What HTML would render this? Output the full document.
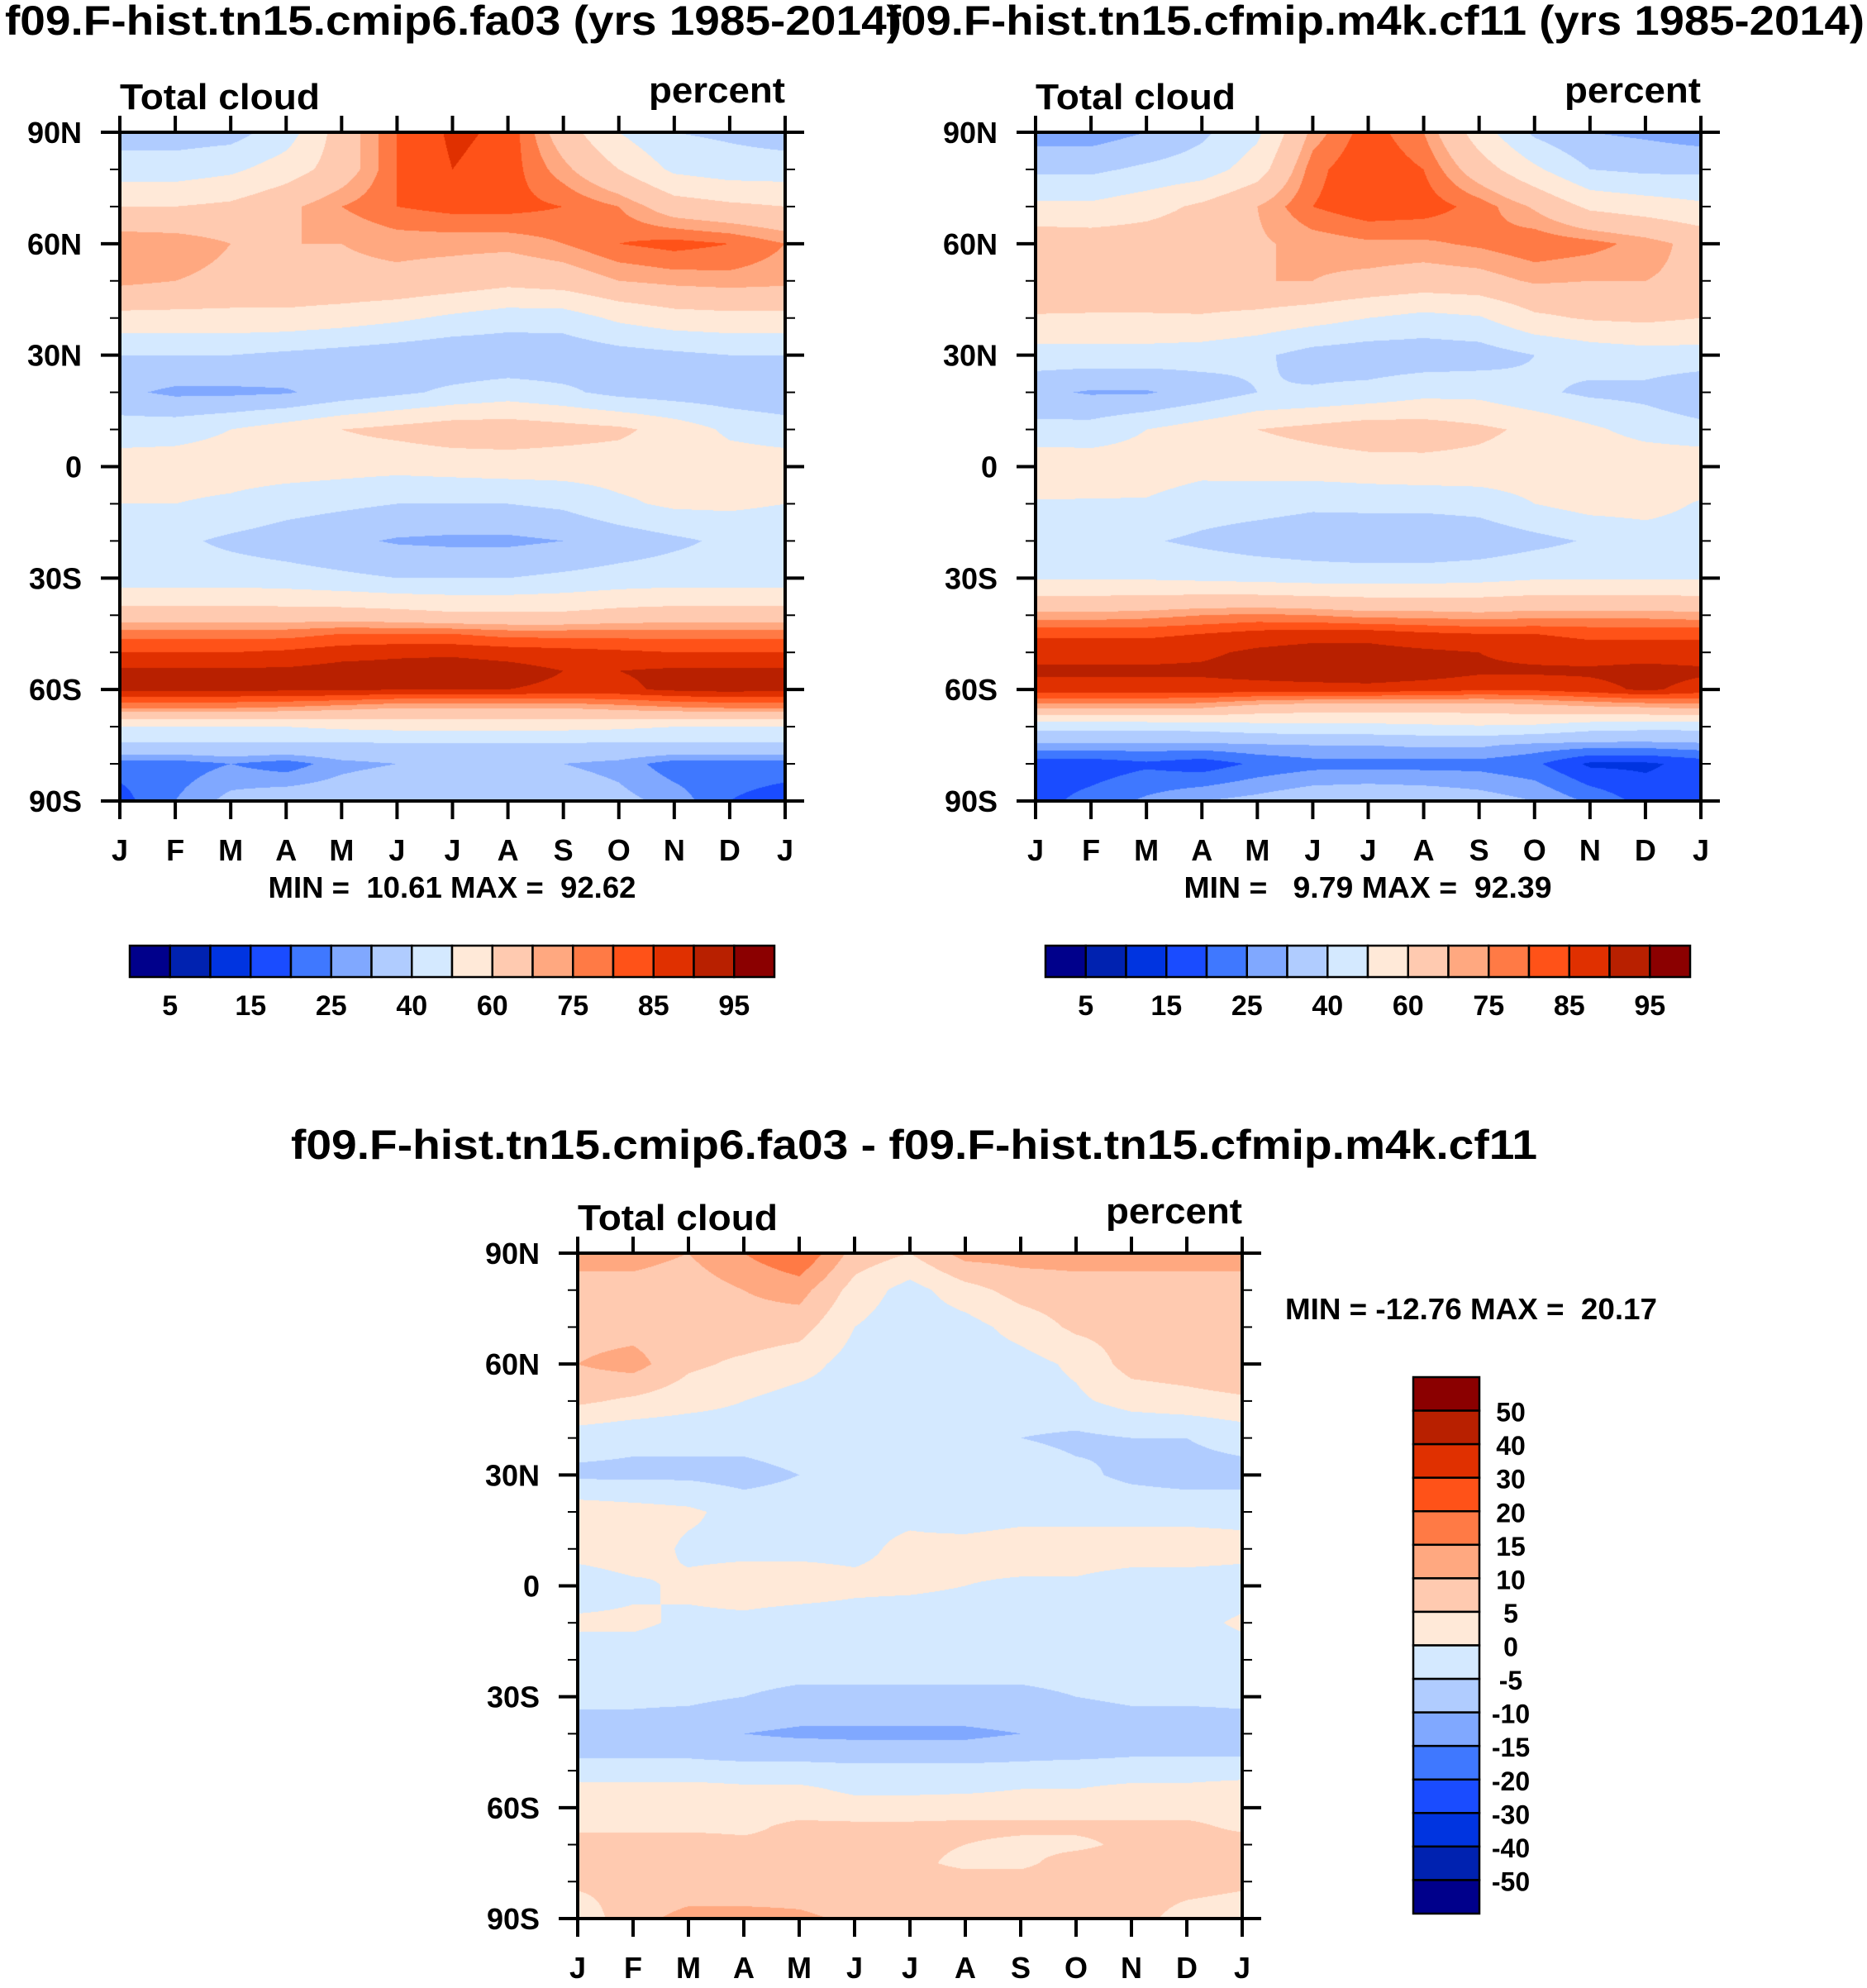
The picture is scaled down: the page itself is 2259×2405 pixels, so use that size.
<!DOCTYPE html>
<html><head><meta charset="utf-8">
<style>
html,body{margin:0;padding:0;background:#fff;}
#wrap{position:relative;width:2259px;height:2405px;overflow:hidden;}
canvas{position:absolute;}
svg{position:absolute;left:0;top:0;}
text{font-family:"Liberation Sans",Arial,sans-serif;font-weight:bold;fill:#000;white-space:pre;}
</style></head>
<body>
<div id="wrap">
<canvas id="cTL"></canvas>
<canvas id="cTR"></canvas>
<canvas id="cB"></canvas>
<svg id="svg" width="2259" height="2405"></svg>
</div>
<script>
const months = ["J","F","M","A","M","J","J","A","S","O","N","D","J"];
const lats = [90,80,70,60,50,40,30,20,10,0,-10,-20,-30,-40,-45,-50,-55,-60,-65,-70,-75,-80,-90];
const latTicks = [90,60,30,0,-30,-60,-90];
const latTickLabels = ["90N","60N","30N","0","30S","60S","90S"];
const absLevels = [5,10,15,20,25,30,40,50,60,70,75,80,85,90,95];
const absLabels = ["5","15","25","40","60","75","85","95"];
const diffLevels = [-50,-40,-30,-20,-15,-10,-5,0,5,10,15,20,30,40,50];
const diffLabels = ["50","40","30","20","15","10","5","0","-5","-10","-15","-20","-30","-40","-50"];
const colors = ["#00008b","#0022b0","#0034e0","#1a4cff","#3f78ff","#80a8ff","#b0ccff","#d4e9ff","#ffe9d8","#ffcab0","#ffa880","#ff7a45","#ff5218","#e03000","#b82000","#8b0000"];

const valsTL = [
[35,35,36,45,65,80,86,84,65,50,40,38,35],
[45,45,48,55,65,80,85,83,72,60,48,45,45],
[60,60,62,68,75,80,82,82,80,75,65,62,60],
[75,74,70,70,70,72,72,72,75,80,82,80,75],
[72,70,68,68,68,68,66,63,65,70,72,73,72],
[57,57,57,57,55,52,48,45,45,52,56,57,57],
[40,40,40,38,36,34,32,32,33,36,38,40,40],
[32,28,28,29,34,38,42,45,42,37,35,34,32],
[45,46,50,55,60,63,66,66,64,62,56,48,45],
[55,55,55,55,54,53,54,55,55,55,55,55,55],
[50,50,48,44,42,40,40,40,42,48,52,52,50],
[42,42,38,35,32,29,28,28,30,34,38,42,42],
[45,45,45,44,42,40,40,40,42,44,45,45,45],
[65,65,65,65,65,64,62,62,62,64,65,65,65],
[78,78,78,78,80,80,80,78,78,78,78,78,78],
[85,85,85,86,88,89,89,88,87,86,85,85,85],
[91,91,91,91,92,92,93,92,90,90,91,91,91],
[91,91,91,91,91,90,90,90,89,89,91,92,91],
[75,75,75,74,72,70,70,70,70,72,74,75,75],
[50,50,50,50,52,53,53,53,53,52,50,50,50],
[38,38,38,38,38,38,38,38,38,38,38,38,38],
[22,22,25,22,28,30,30,30,30,28,22,22,22],
[18,25,32,35,35,38,40,38,35,32,28,20,18]];

const valsTR = [
[25,25,30,38,48,72,83,75,55,38,30,28,25],
[38,38,42,45,55,78,85,80,65,52,40,38,38],
[52,52,56,62,70,80,84,83,78,69,58,55,52],
[67,66,66,67,69,72,74,74,76,79,77,73,67],
[68,66,66,68,70,70,68,66,67,71,70,70,68],
[59,59,59,59,57,54,50,47,49,58,61,62,60],
[46,46,46,45,42,36,34,34,35,40,44,46,46],
[32,29,29,34,40,41,43,47,47,42,38,37,32],
[43,44,50,55,60,63,66,65,62,58,52,46,43],
[58,56,55,53,54,55,56,57,57,56,58,58,58],
[49,49,49,45,44,42,43,43,44,50,54,54,49],
[45,45,41,38,35,33,31,31,33,37,41,45,45],
[49,49,49,48,47,46,46,46,47,49,49,49,49],
[72,72,73,75,76,75,73,73,72,73,73,73,72],
[84,84,84,85,87,88,88,86,85,85,84,84,84],
[88,88,88,89,91,92,92,91,90,88,87,87,87],
[91,91,91,91,92,93,94,93,91,91,91,92,91],
[88,88,88,88,88,88,88,87,86,86,88,91,88],
[71,71,71,70,66,64,64,64,64,66,68,69,71],
[43,43,43,44,46,47,47,48,49,48,44,43,43],
[28,28,28,28,29,30,30,31,31,28,27,27,28],
[17,17,19,17,21,23,23,23,23,21,14,14,17],
[18,22,26,30,32,35,36,35,33,30,24,18,18]];

const valsDiff = [
[12,12,10,15,20,8,5,12,12,12,12,12,12],
[8,8,7,10,12,3,-2,3,7,8,8,8,8],
[8,8,7,8,7,0,-3,-2,2,6,7,8,8],
[10,12,6,4,2,-2,-3,-3,-2,1,7,8,10],
[6,4,2,0,-2,-2,-2,-3,-2,-1,2,3,4],
[-3,-4,-4,-3,-2,-2,-2,-2,-5,-6,-5,-5,-3],
[-6,-6,-6,-7,-5,-2,-2,-2,-2,-4,-6,-7,-7],
[3,2,1,-2,-2,-1,-1,-3,-2,-2,-2,-2,-2],
[2,3,-1,-1,-1,-1,1,2,3,3,3,3,2],
[-3,-1,1,2,2,1,1,0,-1,-1,-3,-3,-3],
[1,1,-1,-1,-2,-2,-3,-3,-2,-2,-2,-2,1],
[-3,-3,-3,-3,-3,-3,-3,-3,-3,-3,-3,-3,-3],
[-4,-4,-4,-5,-6,-6,-6,-6,-6,-5,-4,-4,-4],
[-7,-7,-8,-10,-11,-11,-11,-11,-10,-9,-8,-8,-7],
[-6,-6,-6,-7,-7,-8,-8,-8,-7,-7,-6,-6,-6],
[-3,-3,-3,-3,-3,-3,-3,-3,-3,-2,-2,-2,-2],
[2,2,2,1,1,-1,-1,-1,0,0,1,1,2],
[3,3,3,3,3,2,2,3,3,3,3,3,3],
[4,4,4,4,6,6,6,6,6,6,6,6,4],
[7,7,7,6,6,6,6,5,4,4,6,7,7],
[7,7,7,7,6,6,6,4,4,7,7,7,7],
[6,6,6,6,7,7,7,7,7,7,7,7,6],
[2,8,12,12,11,9,9,10,9,8,7,3,2]];

function hexToRgb(h){return [parseInt(h.substr(1,2),16),parseInt(h.substr(3,2),16),parseInt(h.substr(5,2),16)];}
const rgb = colors.map(hexToRgb);

function drawField(id, x, y, w, h, vals, levels){
  const c = document.getElementById(id);
  c.width = w; c.height = h; c.style.left = x+'px'; c.style.top = y+'px';
  const ctx = c.getContext('2d');
  const img = ctx.createImageData(w,h);
  for(let py=0;py<h;py++){
    const lat = 90 - 180*(py+0.5)/h;
    let i=0; while(i<lats.length-2 && lat < lats[i+1]) i++;
    const t = (lats[i]-lat)/(lats[i]-lats[i+1]);
    for(let px=0;px<w;px++){
      const m = 12*(px+0.5)/w;
      const j = Math.min(11, Math.floor(m)); const s = m-j;
      const v = (1-t)*((1-s)*vals[i][j]+s*vals[i][j+1]) + t*((1-s)*vals[i+1][j]+s*vals[i+1][j+1]);
      let k=0; while(k<levels.length && v>=levels[k]) k++;
      const cc = rgb[k]; const o=(py*w+px)*4;
      img.data[o]=cc[0];img.data[o+1]=cc[1];img.data[o+2]=cc[2];img.data[o+3]=255;
    }
  }
  ctx.putImageData(img,0,0);
}

const svg = document.getElementById('svg');
const NS = 'http://www.w3.org/2000/svg';
function mk(tag, attrs, parent){
  const e = document.createElementNS(NS, tag);
  for(const k in attrs) e.setAttribute(k, attrs[k]);
  (parent||svg).appendChild(e); return e;
}
function txt(str, x, y, size, anchor, parent, tl){
  const a = {x:x,y:y,'font-size':size,'text-anchor':anchor||'start'};
  if(tl){a.textLength=tl;a.lengthAdjust='spacingAndGlyphs';}
  const e = mk('text', a, parent); e.textContent = str; return e;
}

function drawAxes(name, x0, y0, w, h, fs){
  const g = mk('g', {});
  
  
  const sx = m => x0 + w*m/12;
  const sy = lat => y0 + h*(90-lat)/180;
  const fr = mk('rect', {x:x0,y:y0,width:w,height:h,fill:'none',stroke:'#000','stroke-width':4}, g);
  
  
  for(let m=0;m<months.length;m++){
    const x = sx(m);
    mk('line',{x1:x,y1:y0+h,x2:x,y2:y0+h+22,stroke:'#000','stroke-width':4},g);
    mk('line',{x1:x,y1:y0,x2:x,y2:y0-20,stroke:'#000','stroke-width':4},g);
    const t = txt(months[m], x, y0+h+72, fs, 'middle', g);
    
    
  }
  for(let lat=-90;lat<=90;lat+=10){
    const y = sy(lat); const major = (lat%30===0); const L = major?23:12;
    mk('line',{x1:x0-L,y1:y,x2:x0,y2:y,stroke:'#000','stroke-width':major?4:2},g);
    mk('line',{x1:x0+w,y1:y,x2:x0+w+L,y2:y,stroke:'#000','stroke-width':major?4:2},g);
  }
  for(let i=0;i<latTicks.length;i++){
    const t = txt(latTickLabels[i], x0-46, sy(latTicks[i])+13, fs, 'end', g);
    
    
  }
  const tc = txt('Total cloud', x0, y0-28, 44, 'start', g, 242);
  
  
  const pc = txt('percent', x0+w, y0-36, 44, 'end', g, 165);
  
  
}

function hColorbar(name, x0, y0, w, h, labels){
  const g = mk('g', {});
  
  
  const bw = w/colors.length;
  for(let k=0;k<colors.length;k++){
    const r = mk('rect',{x:x0+k*bw,y:y0,width:bw,height:h,fill:colors[k],stroke:'#000','stroke-width':2.5},g);
    
    
  }
  for(let i=0;i<labels.length;i++){
    const t = txt(labels[i], x0+(2*i+1)*bw, y0+h+46, 34, 'middle', g);
    
    
  }
}

function vColorbar(name, x0, y0, w, h, labels){
  const g = mk('g', {});
  
  
  const bh = h/colors.length;
  for(let k=0;k<colors.length;k++){
    const r = mk('rect',{x:x0,y:y0+k*bh,width:w,height:bh,fill:colors[colors.length-1-k],stroke:'#000','stroke-width':2.5},g);
    
    
  }
  for(let i=0;i<labels.length;i++){
    const t = txt(labels[i], x0+w+38, y0+(i+1)*bh+13, 32, 'middle', g);
    
    
  }
}

const TL = {x:145,y:160,w:805,h:809};
const TR = {x:1253,y:160,w:805,h:809};
const BP = {x:699,y:1516,w:804,h:805};
drawField('cTL', TL.x, TL.y, TL.w, TL.h, valsTL, absLevels);
drawField('cTR', TR.x, TR.y, TR.w, TR.h, valsTR, absLevels);
drawField('cB', BP.x, BP.y, BP.w, BP.h, valsDiff, diffLevels);

let t;
t = txt('f09.F-hist.tn15.cmip6.fa03 (yrs 1985-2014)', 6, 42, 50, 'start', null, 1085);


t = txt('f09.F-hist.tn15.cfmip.m4k.cf11 (yrs 1985-2014)', 1072, 42, 50, 'start', null, 1184);


t = txt('f09.F-hist.tn15.cmip6.fa03 - f09.F-hist.tn15.cfmip.m4k.cf11', 352, 1402, 50, 'start', null, 1508);



drawAxes('cmip6', TL.x, TL.y, TL.w, TL.h, 36);
drawAxes('cfmip', TR.x, TR.y, TR.w, TR.h, 36);
drawAxes('difference', BP.x, BP.y, BP.w, BP.h, 36);

t = txt('MIN =  10.61 MAX =  92.62', 547, 1086, 36, 'middle', null, 445);


t = txt('MIN =   9.79 MAX =  92.39', 1655, 1086, 36, 'middle', null, 445);


t = txt('MIN = -12.76 MAX =  20.17', 1555, 1596, 36, 'start', null, 450);



hColorbar('colorbar-cmip6', 157, 1144, 780, 38, absLabels);
hColorbar('colorbar-cfmip', 1265, 1144, 780, 38, absLabels);
vColorbar('colorbar-difference', 1710, 1666, 80, 649, diffLabels);
</script>
</body></html>
